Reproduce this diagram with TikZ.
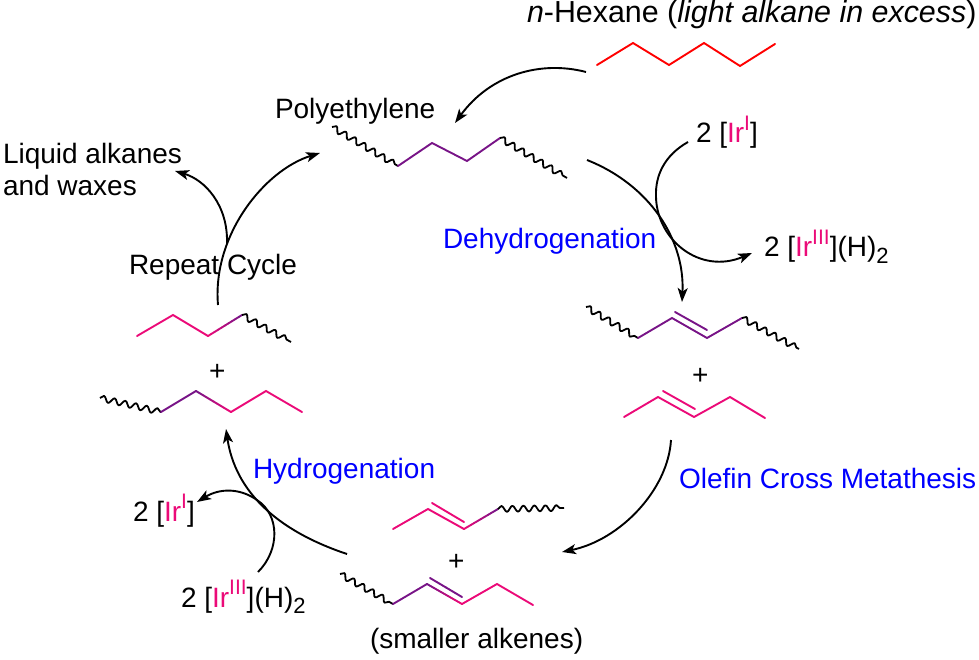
\documentclass[tikz,border=0pt]{standalone}
\usepackage{fontspec}
\setmainfont{Liberation Sans}
\usetikzlibrary{arrows.meta,decorations.pathmorphing,calc}
\definecolor{irpink}{RGB}{235,10,120}
\definecolor{chainpurple}{RGB}{120,20,135}
\definecolor{labelblue}{RGB}{0,0,255}
\definecolor{hexred}{RGB}{255,0,0}
\newcommand{\IrOx}[1]{{\color{irpink}Ir\raisebox{0.46em}{\fontsize{21}{21}\selectfont #1}}}
\newcommand{\subtwo}{\raisebox{-0.22em}{\fontsize{22}{22}\selectfont 2}}
\newcommand{\gradseg}[4]{%
  \foreach \i in {0,...,9}{%
    \pgfmathtruncatemacro{\pc}{100-\i*11}%
    \draw[bond,color={#3!\pc!#4}] ($#1!{\i/10}!#2$) -- ($#1!{(\i+1)/10}!#2$);
  }}
\tikzset{
  bond/.style={line width=1.9pt,line cap=round,line join=miter},
  pinkbond/.style={bond,color=irpink},
  purplebond/.style={bond,color=chainpurple},
  redbond/.style={bond,color=hexred},
  wavy/.style={line width=1.8pt,black,line join=round,decorate,decoration={snake,segment length=11pt,amplitude=3pt}},
  rxn/.style={line width=1.9pt,black,-{Stealth[length=14pt,width=10pt,inset=3.5pt]}},
  lab/.style={anchor=base west,inner sep=0pt,outer sep=0pt,font=\fontsize{28}{34}\selectfont,text=black},
  biglab/.style={lab,font=\fontsize{30.4}{36}\selectfont},
  bluelab/.style={lab,text=labelblue},
}
\begin{document}
\begin{tikzpicture}[x=1pt,y=-1pt]
\useasboundingbox (0,0) rectangle (979,660);
% labels
\node[biglab] (hexlabel) at (527,23) {\textit{n}-Hexane (\textit{light alkane in excess})};
\node[lab] (pelabel) at (275,119) {Polyethylene};
\node[lab] (liq1) at (3,164) {Liquid alkanes};
\node[lab] (liq2) at (3,196) {and waxes};
\node[lab] (repeatlabel) at (129,274) {Repeat Cycle};
\node[lab] (irtop) at (696,143) {2 [\IrOx{I}]};
\node[lab] (irthreetop) at (764,257) {2 [\IrOx{III}](H)\subtwo};
\node[bluelab] (dehydro) at (443,248) {Dehydrogenation};
\node[bluelab] (olefin) at (679,488) {Olefin Cross Metathesis};
\node[bluelab] (hydro) at (253,478) {Hydrogenation};
\node[lab] (irbot) at (133,521) {2 [\IrOx{I}]};
\node[lab] (irthreebot) at (181,607) {2 [\IrOx{III}](H)\subtwo};
\node[lab] (smaller) at (370,648) {(smaller alkenes)};
\node[lab] (plusa) at (692,384) {+};
\node[lab] (plusb) at (448,570) {+};
\node[lab] (plusc) at (209,380) {+};
% hexane
\draw[redbond] (597,65) -- (633,43) -- (669,65) -- (704,43) -- (740,66) -- (775,44);
% polyethylene
\draw[wavy] (332,127) -- (398,166);
\draw[purplebond] (398,166) -- (432,143) -- (467,161) -- (500,138);
\draw[wavy] (500,138) -- (567,178);
% dehydrogenated chain
\draw[wavy] (586,307) -- (638,338);
\draw[purplebond] (638,338) -- (672,318) -- (707,338) -- (742,318);
\draw[purplebond] (675,312) -- (707,330);
\draw[wavy] (742,318) -- (799,349);
% pink alkene
\draw[pinkbond] (624,417) -- (658,397) -- (694,417) -- (730,397) -- (765,418);
\draw[pinkbond] (663,391) -- (695,409);
% lower alkene 1
\draw[pinkbond] (393,529) -- (428,509) -- (464,529);
\draw[pinkbond] (432,503) -- (464,522);
\gradseg{(464,529)}{(498,509)}{irpink}{chainpurple}
\draw[wavy] (498,509) -- (564,508);
% lower alkene 2
\draw[wavy] (340,574) -- (393,604);
\draw[purplebond] (393,604) -- (427,584);
\gradseg{(427,584)}{(462,604)}{chainpurple}{irpink}
\gradseg{(430,578)}{(462,597)}{chainpurple}{chainpurple}
\draw[pinkbond] (462,604) -- (497,584) -- (533,605);
% left alkane upper
\draw[pinkbond] (137,336) -- (173,315) -- (208,336);
\gradseg{(208,336)}{(242,315)}{irpink}{chainpurple}
\draw[wavy] (242,315) -- (291,342);
% left alkane lower
\draw[wavy] (100,398) -- (161,412);
\draw[purplebond] (161,412) -- (196,391);
\gradseg{(196,391)}{(231,412)}{chainpurple}{irpink}
\draw[pinkbond] (231,412) -- (266,391) -- (302,412);
% reaction arrows
\coordinate (hexout) at (586,72);
\coordinate (pein) at (455,123);
\draw[rxn] (hexout) .. controls (540,60) and (490,75) .. (pein);
\coordinate (peout) at (587,160);
\coordinate (alkenein) at (682,302);
\draw[rxn] (peout) .. controls (650,185) and (685,240) .. (alkenein);
\coordinate (irin) at (688,142);
\coordinate (irbend) at (656,197);
\coordinate (irout) at (752,253);
\draw[rxn] (irin) .. controls (665,155) and (655,175) .. (irbend) .. controls (657,240) and (700,275) .. (irout);
\coordinate (metain) at (671,440);
\coordinate (metaout) at (562,552);
\draw[rxn] (metain) .. controls (668,490) and (620,540) .. (metaout);
\coordinate (hydin) at (347,554);
\coordinate (hydout) at (226,429);
\draw[rxn] (hydin) .. controls (275,530) and (235,490) .. (hydout);
\coordinate (irbotin) at (258,572);
\coordinate (irbotbend) at (257,500);
\coordinate (irbotout) at (197,502);
\draw[rxn] (irbotin) .. controls (280,550) and (280,515) .. (irbotbend) .. controls (240,488) and (220,488) .. (irbotout);
\coordinate (repin) at (218,305);
\coordinate (repout) at (320,153);
\draw[rxn] (repin) .. controls (212,235) and (265,170) .. (repout);
\coordinate (liqin) at (227,243);
\coordinate (liqout) at (175,171);
\draw[rxn] (liqin) .. controls (228,205) and (205,180) .. (liqout);
\end{tikzpicture}
\end{document}
